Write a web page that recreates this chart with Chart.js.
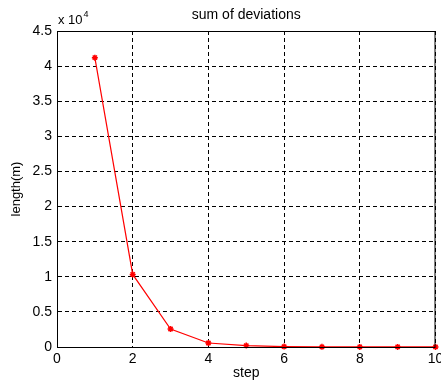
<!DOCTYPE html>
<html>
<head>
<meta charset="utf-8">
<script src="https://cdn.jsdelivr.net/npm/chart.js@4/dist/chart.umd.min.js"></script>
<style>
  html, body { margin: 0; padding: 0; background: #fff; }
  #wrap { width: 441px; height: 381px; position: relative; }
</style>
</head>
<body>
<div id="wrap"><canvas id="c" width="441" height="381"></canvas></div>
<script>
// Iteration steps and the summed deviation length at each step (metres)
const steps = [1, 2, 3, 4, 5, 6, 7, 8, 9, 10];
const deviationSum = [41200, 10330, 2560, 570, 200, 60, 30, 15, 8, 4];

const titleText = 'sum of deviations';
const xLabel = 'step';
const yLabel = 'length(m)';
const yExponent = 4;

const FONT = '"Liberation Sans", Arial, sans-serif';

// Frame, title, axis labels and exponent marker drawn around the plot area
const framePlugin = {
  id: 'frame',
  afterDraw(chart) {
    const { ctx, chartArea: a } = chart;
    ctx.save();
    ctx.strokeStyle = '#000';
    ctx.lineWidth = 1;
    ctx.setLineDash([]);
    ctx.strokeRect(a.left + 0.5, a.top + 0.5, a.right - a.left - 1, a.bottom - a.top);

    const cx = (a.left + a.right) / 2;
    ctx.fillStyle = '#000';
    ctx.textAlign = 'center';
    ctx.textBaseline = 'middle';
    ctx.font = '14px ' + FONT;
    ctx.fillText(titleText, cx, 15);
    ctx.fillText(xLabel, cx, 373);

    ctx.save();
    ctx.translate(16, (a.top + a.bottom) / 2);
    ctx.rotate(-Math.PI / 2);
    ctx.font = '13px ' + FONT;
    ctx.fillText(yLabel, 0, 0);
    ctx.restore();

    // "x 10^4" above the y axis
    ctx.textAlign = 'left';
    ctx.textBaseline = 'alphabetic';
    ctx.font = '13px ' + FONT;
    const base = 'x 10';
    ctx.fillText(base, a.left + 1, 24);
    const w = ctx.measureText(base).width;
    ctx.font = '9px ' + FONT;
    ctx.fillText(String(yExponent), a.left + 2 + w, 17);
    ctx.restore();
  }
};

new Chart(document.getElementById('c'), {
  type: 'line',
  data: {
    datasets: [{
      data: steps.map((s, i) => ({ x: s, y: deviationSum[i] })),
      borderColor: '#ff0000',
      backgroundColor: '#ff0000',
      borderWidth: 1.2,
      pointStyle: 'star',
      pointRadius: 3,
      pointBorderWidth: 1.5,
      pointBorderColor: '#ff0000',
      tension: 0,
      clip: false
    }]
  },
  options: {
    responsive: false,
    animation: false,
    events: [],
    layout: { padding: { top: 31, right: 4, left: 0, bottom: 0 } },
    plugins: { legend: { display: false }, tooltip: { enabled: false }, title: { display: false } },
    scales: {
      x: {
        type: 'linear',
        min: 0, max: 10,
        ticks: { stepSize: 2, color: '#000', font: { size: 14, family: FONT }, padding: 4, maxRotation: 0 },
        grid: { color: '#000', lineWidth: 1, drawTicks: false },
        border: { display: true, color: '#000', dash: [4, 3] },
        afterFit(s) { s.height = 34; s.paddingLeft = 0; s.paddingRight = 0; }
      },
      y: {
        min: 0, max: 45000,
        ticks: {
          stepSize: 5000, color: '#000', font: { size: 14, family: FONT }, padding: 5,
          callback: v => String(v / Math.pow(10, yExponent))
        },
        grid: { color: '#000', lineWidth: 1, drawTicks: false },
        border: { display: true, color: '#000', dash: [4, 3] },
        afterFit(s) { s.width = 57; s.paddingTop = 0; s.paddingBottom = 0; }
      }
    }
  },
  plugins: [framePlugin]
});
</script>
</body>
</html>
